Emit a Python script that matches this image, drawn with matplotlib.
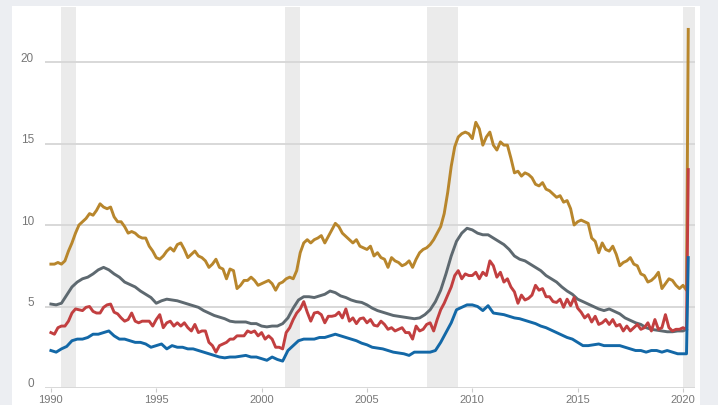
import matplotlib
matplotlib.use("Agg")
import matplotlib.pyplot as plt
import numpy as np
from matplotlib.patches import Rectangle
from matplotlib.transforms import ScaledTranslation

# unemployment rate by education, %
# gold and red: every 2 months from Jan 1990 to Jan 2020
less_than_hs = [
    7.6, 7.6, 7.7, 7.6, 7.8, 8.4,
    8.9, 9.5, 10.0, 10.2, 10.4, 10.7,
    10.6, 10.9, 11.3, 11.1, 11.0, 11.1,
    10.5, 10.2, 10.2, 9.9, 9.5, 9.6,
    9.5, 9.3, 9.2, 9.2, 8.7, 8.4,
    8.0, 7.9, 8.1, 8.4, 8.6, 8.4,
    8.8, 8.9, 8.5, 8.0, 8.2, 8.4,
    8.1, 8.0, 7.8, 7.4, 7.6, 7.9,
    7.4, 7.3, 6.7, 7.3, 7.2, 6.1,
    6.3, 6.6, 6.6, 6.8, 6.6, 6.3,
    6.4, 6.5, 6.6, 6.4, 6.0, 6.4,
    6.5, 6.7, 6.8, 6.7, 7.2, 8.3,
    8.9, 9.1, 8.9, 9.1, 9.2, 9.35,
    8.9, 9.3, 9.7, 10.1, 9.9, 9.5,
    9.3, 9.1, 8.9, 9.1, 8.7, 8.6,
    8.5, 8.7, 8.1, 8.3, 8.0, 7.9,
    7.4, 8.0, 7.8, 7.7, 7.5, 7.6,
    7.8, 7.4, 7.9, 8.3, 8.5, 8.6,
    8.8, 9.1, 9.5, 9.9, 10.7, 12.0,
    13.6, 14.8, 15.4, 15.6, 15.7, 15.6,
    15.3, 16.3, 15.9, 14.9, 15.4, 15.7,
    14.9, 14.6, 15.1, 14.9, 14.9, 14.1,
    13.2, 13.3, 13.0, 13.2, 13.1, 12.9,
    12.5, 12.4, 12.6, 12.2, 12.1, 11.9,
    11.7, 11.8, 11.4, 11.5, 11.0, 10.0,
    10.2, 10.3, 10.2, 10.1, 9.2, 9.0,
    8.3, 8.9, 8.5, 8.4, 8.7, 8.2,
    7.5, 7.7, 7.8, 8.0, 7.6, 7.5,
    7.0, 6.9, 6.5, 6.6, 6.8, 7.1,
    6.1, 6.4, 6.7, 6.6, 6.3, 6.1,
    6.3,
]
some_college = [
    3.4, 3.3, 3.7, 3.8, 3.8, 4.1,
    4.6, 4.85, 4.8, 4.75, 4.95, 5.0,
    4.7, 4.6, 4.6, 4.95, 5.1, 5.15,
    4.65, 4.55, 4.3, 4.1, 4.2, 4.6,
    4.1, 4.0, 4.1, 4.1, 4.1, 3.8,
    4.2, 4.5, 3.7, 4.0, 4.1, 3.8,
    4.0, 3.8, 4.0, 3.7, 3.5, 3.9,
    3.4, 3.5, 3.5, 2.8, 2.6, 2.2,
    2.6, 2.7, 2.8, 3.0, 3.0, 3.2,
    3.2, 3.2, 3.5, 3.4, 3.5, 3.2,
    3.4, 3.0, 3.2, 3.0, 2.5, 2.5,
    2.4, 3.4, 3.7, 4.2, 4.6, 4.85,
    5.3, 4.65, 4.1, 4.6, 4.65, 4.5,
    4.0, 4.4, 4.4, 4.45, 4.65, 4.3,
    4.85, 4.1, 4.3, 3.95, 4.25, 4.3,
    4.0, 4.2, 3.85, 3.8, 4.1, 3.9,
    3.6, 3.7, 3.5, 3.6, 3.7, 3.4,
    3.4, 3.0, 3.8, 3.5, 3.6, 3.9,
    4.0, 3.5, 4.2, 4.8, 5.2, 5.7,
    6.2, 6.9, 7.2, 6.7, 7.0, 6.9,
    6.9, 7.1, 6.7, 7.1, 6.9, 7.8,
    7.5, 6.8, 7.1, 6.5, 6.7, 6.2,
    5.9, 5.2, 5.7, 5.4, 5.5, 5.7,
    6.3, 6.0, 6.1, 5.6, 5.6, 5.3,
    5.25, 5.45, 4.95, 5.45, 5.05, 5.55,
    4.9, 4.65, 4.3, 4.5, 4.05, 4.4,
    3.9, 4.0, 4.2, 3.9, 4.2, 3.8,
    3.9, 3.5, 3.8, 3.5, 3.7, 3.9,
    3.6, 3.7, 4.0, 3.5, 4.2, 3.6,
    3.7, 4.5, 3.7, 3.5, 3.6, 3.6,
    3.7,
]
# gray and blue: quarterly from Jan 1990 to Jan 2020
high_school = [
    5.15, 5.1, 5.2, 5.7, 6.2, 6.5, 6.7, 6.8,
    7.0, 7.25, 7.4, 7.25, 7.0, 6.8, 6.5, 6.35,
    6.2, 5.95, 5.75, 5.55, 5.2, 5.35, 5.45, 5.4,
    5.35, 5.25, 5.15, 5.05, 4.95, 4.75, 4.6, 4.45,
    4.35, 4.25, 4.1, 4.05, 4.05, 4.05, 3.95, 3.95,
    3.8, 3.75, 3.8, 3.8, 3.95, 4.3, 4.9, 5.4,
    5.6, 5.6, 5.55, 5.65, 5.75, 5.95, 5.85, 5.65,
    5.55, 5.4, 5.3, 5.25, 5.1, 4.9, 4.75, 4.65,
    4.55, 4.45, 4.4, 4.35, 4.3, 4.25, 4.3, 4.5,
    4.8, 5.3, 6.0, 7.0, 8.1, 9.0, 9.5, 9.8,
    9.7, 9.5, 9.4, 9.4, 9.2, 9.0, 8.8, 8.5,
    8.1, 7.9, 7.8, 7.6, 7.4, 7.2, 6.9, 6.7,
    6.5, 6.2, 5.95, 5.75, 5.45, 5.3, 5.15, 5.0,
    4.85, 4.75, 4.85, 4.7, 4.55, 4.3, 4.15, 4.0,
    3.9, 3.7, 3.6, 3.55, 3.5, 3.45, 3.45, 3.5,
    3.5,
]
bachelors = [
    2.3, 2.2, 2.4, 2.55, 2.9, 3.0, 3.0, 3.1,
    3.3, 3.3, 3.4, 3.5, 3.2, 3.0, 3.0, 2.9,
    2.8, 2.8, 2.7, 2.5, 2.6, 2.7, 2.4, 2.6,
    2.5, 2.5, 2.4, 2.4, 2.3, 2.2, 2.1, 2.0,
    1.9, 1.85, 1.9, 1.9, 1.95, 2.0, 1.9, 1.9,
    1.8, 1.7, 1.9, 1.75, 1.65, 2.3, 2.6, 2.9,
    3.0, 3.0, 3.0, 3.1, 3.1, 3.2, 3.3, 3.2,
    3.1, 3.0, 2.9, 2.75, 2.65, 2.5, 2.45, 2.4,
    2.3, 2.2, 2.15, 2.1, 2.0, 2.2, 2.2, 2.2,
    2.2, 2.3, 2.8, 3.4, 4.0, 4.8, 4.95, 5.1,
    5.1, 5.0, 4.75, 5.05, 4.6, 4.55, 4.5, 4.4,
    4.3, 4.25, 4.15, 4.05, 3.95, 3.8, 3.7, 3.55,
    3.4, 3.25, 3.1, 3.0, 2.8, 2.6, 2.6, 2.65,
    2.7, 2.6, 2.6, 2.6, 2.6, 2.5, 2.4, 2.3,
    2.3, 2.2, 2.3, 2.3, 2.2, 2.3, 2.2, 2.1,
    2.1,
]
# March and April 2020
tail_months = [2020 + 2 / 12, 2020 + 3 / 12]
less_than_hs_tail = [6.0, 22.0]
some_college_tail = [3.6, 13.4]
high_school_tail = [3.6]
bachelors_tail = [2.1, 8.0]

recessions = [(1990.5, 1991.17), (2001.1, 2001.8), (2007.85, 2009.3), (2020.0, 2020.6)]
year_ticks = [1990, 1995, 2000, 2005, 2010, 2015, 2020]
rate_ticks = [0, 5, 10, 15, 20]

W, H = 718, 406
fig = plt.figure(figsize=(W / 100, H / 100), dpi=100, facecolor='#eceef2')
fig.patches.append(Rectangle((12 / W, 0), 688 / W, 399 / H, transform=fig.transFigure,
                             facecolor='white', edgecolor='none', zorder=-10))

ax = fig.add_axes([45 / W, 17 / H, 650 / W, 381.4 / H])
ax.set_facecolor('none')
for s in ax.spines.values():
    s.set_visible(False)

for a, b in recessions:
    ax.axvspan(a, b, color='#ebebeb', lw=0, zorder=0)
for v in rate_ticks:
    ax.axhline(v, color='#d6d6d6', lw=1.3, zorder=1)


def series(vals, per_year, tail):
    t = 1990 + np.arange(len(vals)) / per_year
    return np.append(t, tail_months[:len(tail)]), np.append(vals, tail)


x, y = series(less_than_hs, 6, less_than_hs_tail)
ax.plot(x, y, color='#b8862c', lw=2.1, zorder=3)
x, y = series(high_school, 4, high_school_tail)
ax.plot(x, y, color='#5e6970', lw=2.1, zorder=3)
x, y = series(some_college, 6, some_college_tail)
ax.plot(x, y, color='#c23f40', lw=2.1, zorder=4)
x, y = series(bachelors, 4, bachelors_tail)
ax.plot(x, y, color='#1368a7', lw=2.1, zorder=5)

ax.set_xlim(1989.72, 2020.57)
ax.set_ylim(0, 23.4)
ax.set_xticks(year_ticks)
ax.set_yticks(rate_ticks)
ax.tick_params(axis='x', length=3, color='#cccccc', pad=1, labelsize=8, labelcolor='#777777')
ax.tick_params(axis='y', length=0, pad=8, labelsize=8.5, labelcolor='#777777')
for lab in ax.get_xticklabels() + ax.get_yticklabels():
    lab.set_fontfamily('Liberation Sans')
up = ScaledTranslation(0, 6 / 100, fig.dpi_scale_trans)
for lab in ax.get_yticklabels():
    lab.set_transform(lab.get_transform() + up)

fig.savefig('out.png', dpi=100, facecolor=fig.get_facecolor())
